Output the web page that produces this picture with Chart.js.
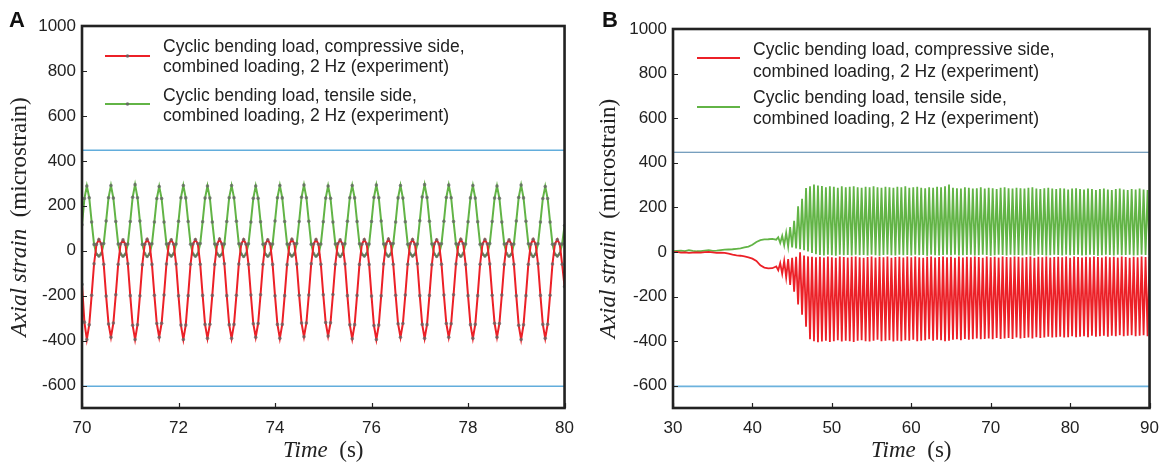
<!DOCTYPE html>
<html>
<head>
<meta charset="utf-8">
<script src="https://cdn.jsdelivr.net/npm/chart.js@4.4.0/dist/chart.umd.min.js"></script>
<style>
html, body { margin: 0; padding: 0; background: #fff; }
#wrap { position: relative; width: 1169px; height: 463px; overflow: hidden; }
#wrap canvas { position: absolute; top: 0; }
.tag { position: absolute; font: bold 22px "Liberation Sans", Arial, sans-serif; color: #111; line-height: 1; }
</style>
</head>
<body>
<div id="wrap">
  <canvas id="chartA" width="584" height="463" style="left:0"></canvas>
  <canvas id="chartB" width="585" height="463" style="left:584px"></canvas>
  <div class="tag" style="left:9px;top:9px">A</div>
  <div class="tag" style="left:602px;top:9px">B</div>
</div>
<script>
/* labels */
const redLabel = ["Cyclic bending load, compressive side,", "combined loading, 2 Hz (experiment)"];
const greenLabel = ["Cyclic bending load, tensile side,", "combined loading, 2 Hz (experiment)"];
const xTitleParts = [["Time", "italic"], ["  (s)", "normal"]];
const yTitleParts = [["Axial strain", "italic"], ["  (microstrain)", "normal"]];

/* ticks */
const yTickValues = [-600, -400, -200, 0, 200, 400, 600, 800, 1000];
const aTickValues = [70, 72, 74, 76, 78, 80];
const bTickValues = [30, 40, 50, 60, 70, 80, 90];

/* blue limit lines (microstrain) */
const limitLines = [447, -603];

/* panel A: samples every 0.05 s from 70 s */
const aTimeStart = 70, aTimeStep = 0.05;
const aGreen = [
  115, 232, 288, 236, 128, 28, -16, -24, -14, 32,
  132, 236, 290, 234, 130, 30, -15, -25, -16, 30,
  130, 238, 294, 236, 132, 28, -14, -26, -15, 31,
  128, 232, 286, 232, 128, 30, -16, -24, -14, 30,
  131, 236, 290, 235, 130, 29, -15, -25, -15, 32,
  129, 234, 288, 234, 128, 30, -14, -24, -16, 30,
  130, 236, 290, 236, 131, 31, -15, -26, -15, 31,
  128, 233, 288, 233, 129, 29, -16, -25, -14, 30,
  132, 236, 290, 235, 130, 30, -15, -24, -15, 32,
  130, 238, 292, 236, 131, 29, -14, -25, -16, 30,
  129, 234, 288, 233, 128, 30, -15, -26, -15, 31,
  131, 236, 290, 235, 130, 31, -16, -24, -14, 30,
  130, 237, 292, 236, 132, 30, -15, -25, -15, 32,
  128, 235, 290, 234, 129, 29, -14, -24, -16, 30,
  133, 239, 294, 237, 131, 30, -15, -26, -15, 31,
  131, 237, 292, 236, 130, 31, -16, -25, -14, 30,
  129, 235, 290, 234, 129, 29, -15, -24, -15, 32,
  130, 234, 288, 233, 128, 30, -14, -25, -16, 30,
  132, 237, 292, 235, 131, 31, -15, -26, -15, 31,
  128, 232, 286, 232, 128, 29, -16, -24, -14, 30,
  112
];
const aRed = [
  -150, -318, -395, -330, -198, -58, 28, 50, 30, -60,
  -202, -326, -385, -322, -196, -60, 30, 48, 28, -58,
  -200, -332, -395, -330, -201, -62, 29, 51, 30, -61,
  -198, -324, -385, -323, -197, -59, 31, 49, 29, -59,
  -201, -331, -395, -331, -200, -60, 30, 50, 31, -60,
  -199, -328, -390, -327, -199, -61, 29, 52, 30, -58,
  -200, -329, -390, -328, -198, -59, 30, 50, 29, -60,
  -197, -325, -385, -324, -196, -60, 31, 49, 30, -61,
  -201, -328, -390, -328, -200, -62, 29, 51, 31, -59,
  -198, -322, -383, -322, -197, -58, 30, 50, 29, -60,
  -196, -320, -380, -321, -195, -60, 31, 48, 30, -59,
  -200, -330, -392, -329, -199, -61, 29, 50, 30, -61,
  -202, -333, -395, -331, -201, -59, 30, 52, 31, -60,
  -198, -325, -385, -324, -197, -60, 31, 50, 29, -58,
  -200, -328, -390, -329, -199, -62, 30, 49, 30, -60,
  -197, -324, -385, -325, -196, -59, 29, 51, 31, -61,
  -200, -329, -390, -328, -200, -60, 30, 50, 30, -59,
  -198, -323, -385, -324, -197, -61, 31, 48, 29, -60,
  -201, -332, -395, -330, -200, -60, 29, 51, 30, -58,
  -199, -328, -390, -327, -198, -59, 30, 50, 30, -60,
  -160
];

/* panel B: slow drift every 0.5 s from 30 s, then 2 Hz cycles from 43.25 s */
const bDriftStart = 30, bDriftStep = 0.5;
const bDriftGreen = [3, 5, 6, 4, 8, 5, 3, 4, 6, 8, 5, 6, 8, 10, 11, 12, 14, 16, 20, 24, 32, 45, 53, 56, 57, 59, 55];
const bDriftRed = [-2, 0, -3, -2, -4, -3, -2, -3, -1, 0, -2, -4, -3, -4, -8, -12, -15, -17, -20, -24, -30, -40, -60, -70, -74, -73, -65];
const bCycleStart = 43.25, bHalfPeriod = 0.25;
const bGreenPeaks = [
  66, 72, 86, 112, 140, 205, 238, 287, 294, 302, 298,
  296, 290, 294, 292, 288, 294, 290, 292, 294, 290,
  288, 292, 290, 294, 290, 288, 292, 290, 288, 292,
  290, 294, 288, 290, 292, 288, 286, 290, 288, 292,
  290, 294, 302, 288, 286, 284, 290, 288, 284, 286,
  290, 284, 288, 286, 282, 288, 290, 286, 284, 288,
  286, 284, 288, 290, 284, 282, 286, 288, 284, 282,
  286, 284, 280, 284, 286, 282, 280, 284, 282, 278,
  282, 284, 280, 278, 282, 284, 280, 278, 282, 280, 284, 280, 278
];
const bGreenTroughs = [
  40, 30, 24, 20, 16, 12, 8, 2, -5, -10,
  -14, -16, -12, -15, -17, -13, -15, -14, -16, -12, -15, -14,
  -16, -13, -15, -17, -14, -12, -15, -16, -13, -15, -14, -16,
  -12, -15, -14, -17, -13, -15, -16, -14, -12, -15, -13, -16,
  -15, -14, -12, -16, -15, -13, -14, -17, -15, -12, -14, -16,
  -13, -15, -14, -16, -12, -15, -17, -13, -14, -16, -15, -12,
  -14, -16, -13, -15, -14, -12, -16, -15, -13, -14, -17, -15,
  -12, -14, -16, -13, -15, -14, -12, -16, -15, -13, -14, -15
];
const bRedTroughs = [
  -82, -98, -115, -148, -178, -236, -282, -335, -392, -400, -405,
  -402, -398, -404, -400, -396, -402, -398, -400, -404, -398,
  -396, -400, -402, -398, -394, -400, -398, -396, -402, -398,
  -400, -396, -398, -394, -400, -398, -396, -392, -398, -394,
  -396, -400, -398, -394, -392, -396, -390, -394, -392, -388,
  -392, -390, -388, -392, -386, -390, -388, -386, -390, -384,
  -388, -386, -384, -388, -382, -386, -384, -380, -384, -382,
  -380, -384, -382, -378, -382, -380, -378, -382, -376, -380,
  -378, -376, -380, -376, -378, -374, -378, -376, -374, -378, -376, -374, -378
];
const bRedPeaks = [
  -50, -40, -32, -26, -22, -2, -16, -20, -22, -24,
  -22, -25, -21, -24, -26, -20, -23, -25, -22, -21, -24, -26,
  -23, -20, -25, -22, -24, -21, -26, -23, -22, -25, -20, -24,
  -21, -24, -26, -22, -20, -25, -23, -21, -24, -22, -26, -20,
  -25, -22, -24, -21, -23, -26, -20, -24, -22, -25, -21, -23,
  -24, -20, -22, -25, -23, -21, -26, -22, -24, -20, -25, -23,
  -22, -24, -21, -26, -20, -23, -25, -22, -24, -21, -23, -25,
  -20, -24, -22, -25, -21, -23, -26, -22, -24, -20, -23, -22
];

const RED = "#ec2027";
const GREEN = "#62b446";
const SANS = '"Liberation Sans", Arial, sans-serif';
const SERIF = '"Liberation Serif", "Times New Roman", serif';

/* build point lists */
function sampled(start, step, vals) {
  return vals.map((v, i) => ({ x: start + i * step, y: v }));
}
function cycles(first, second) {
  const pts = [];
  for (let k = 0; k < first.length; k++) {
    pts.push({ x: bCycleStart + 2 * k * bHalfPeriod, y: first[k] });
    pts.push({ x: bCycleStart + (2 * k + 1) * bHalfPeriod, y: second[k] });
  }
  return pts;
}
const aRedPts = sampled(aTimeStart, aTimeStep, aRed);
const aGreenPts = sampled(aTimeStart, aTimeStep, aGreen);
const bRedPts = sampled(bDriftStart, bDriftStep, bDriftRed).concat(cycles(bRedTroughs, bRedPeaks));
const bGreenPts = sampled(bDriftStart, bDriftStep, bDriftGreen).concat(cycles(bGreenPeaks, bGreenTroughs));

function drawParts(ctx, parts, size) {
  let total = 0;
  const w = parts.map(p => {
    ctx.font = p[1] + " " + size + "px " + SERIF;
    const m = ctx.measureText(p[0]).width;
    total += m;
    return m;
  });
  let x = -total / 2;
  parts.forEach((p, i) => {
    ctx.font = p[1] + " " + size + "px " + SERIF;
    ctx.fillText(p[0], x, 0);
    x += w[i];
  });
}

/* frame, inside ticks, axis titles and legend */
const panelDecor = {
  id: "panelDecor",
  afterDraw(chart, args, o) {
    const ctx = chart.ctx, a = chart.chartArea;
    const xs = chart.scales.x, ys = chart.scales.y;
    ctx.save();
    ctx.strokeStyle = "#222";
    ctx.lineWidth = 1.2;
    ctx.beginPath();
    ys.ticks.forEach(t => {
      const py = Math.round(ys.getPixelForValue(t.value)) + 0.5;
      ctx.moveTo(a.left, py); ctx.lineTo(a.left + 5, py);
    });
    xs.ticks.forEach(t => {
      const px = Math.round(xs.getPixelForValue(t.value)) + 0.5;
      ctx.moveTo(px, a.bottom); ctx.lineTo(px, a.bottom - 5);
    });
    ctx.stroke();
    ctx.lineWidth = 2.6;
    ctx.strokeRect(a.left, a.top, a.right - a.left, a.bottom - a.top);

    ctx.fillStyle = "#222";
    ctx.textBaseline = "middle";
    ctx.textAlign = "left";
    ctx.save();
    ctx.translate((a.left + a.right) / 2, o.xTitleY);
    drawParts(ctx, xTitleParts, 23);
    ctx.restore();
    ctx.save();
    ctx.translate(o.yTitleX, (a.top + a.bottom) / 2);
    ctx.rotate(-Math.PI / 2);
    drawParts(ctx, yTitleParts, 23);
    ctx.restore();

    const lg = o.legend;
    ctx.font = "17.5px " + SANS;
    lg.rows.forEach((r, i) => {
      const ds = chart.data.datasets[i];
      ctx.strokeStyle = ds.borderColor;
      ctx.lineWidth = 2;
      ctx.beginPath();
      ctx.moveTo(lg.x0, r.lineY); ctx.lineTo(lg.x1, r.lineY);
      ctx.stroke();
      if (lg.marker) {
        ctx.fillStyle = "rgba(100,100,100,0.85)";
        ctx.beginPath();
        ctx.arc((lg.x0 + lg.x1) / 2, r.lineY, 1.8, 0, Math.PI * 2);
        ctx.fill();
      }
      ctx.fillStyle = "#222";
      ds.legendText.forEach((line, j) => ctx.fillText(line, lg.textX, r.textY[j]));
    });
    ctx.restore();
  }
};

function makePanel(id, cfg) {
  const limitDs = limitLines.map((v, i) => ({
    label: "limit" + i,
    data: [{ x: cfg.xMin, y: v }, { x: cfg.xMax, y: v }],
    borderColor: cfg.limitColors[i],
    borderWidth: cfg.limitWidths[i],
    pointRadius: 0
  }));
  const marker = {
    pointRadius: cfg.pointRadius, pointStyle: "circle",
    pointBackgroundColor: "rgba(100,100,100,0.75)", pointBorderWidth: 0
  };
  return new Chart(document.getElementById(id), {
    type: "line",
    data: {
      datasets: [
        Object.assign({ label: redLabel.join(" "), legendText: redLabel, data: cfg.red,
          borderColor: RED, borderWidth: cfg.lineWidth }, marker),
        Object.assign({ label: greenLabel.join(" "), legendText: greenLabel, data: cfg.green,
          borderColor: GREEN, borderWidth: cfg.lineWidth }, marker)
      ].concat(limitDs)
    },
    options: {
      responsive: false,
      animation: false,
      devicePixelRatio: 1,
      layout: { padding: { left: 0, right: cfg.padRight, top: cfg.padTop, bottom: 0 } },
      plugins: {
        legend: { display: false },
        tooltip: { enabled: false },
        panelDecor: { legend: cfg.legend, xTitleY: 451, yTitleX: cfg.yTitleX }
      },
      scales: {
        x: {
          type: "linear", min: cfg.xMin, max: cfg.xMax,
          grid: { display: false, drawTicks: false },
          border: { display: false },
          afterBuildTicks: s => { s.ticks = cfg.xTicks.map(v => ({ value: v })); },
          afterFit: s => { s.height = 55; },
          ticks: { padding: 10, color: "#222", font: { family: SANS, size: 17 }, maxRotation: 0,
            callback: v => String(v) }
        },
        y: {
          type: "linear", min: -700, max: 1000,
          grid: { display: false, drawTicks: false },
          border: { display: false },
          afterBuildTicks: s => { s.ticks = yTickValues.map(v => ({ value: v })); },
          afterFit: s => { s.width = cfg.left; },
          ticks: { padding: 6, color: "#222", font: { family: SANS, size: 17 },
            callback: v => String(v) }
        }
      }
    },
    plugins: [panelDecor]
  });
}

makePanel("chartA", {
  red: aRedPts, green: aGreenPts, xMin: 70, xMax: 80, xTicks: aTickValues,
  left: 82, padRight: 19, padTop: 26, lineWidth: 2, pointRadius: 1.8,
  limitColors: ["#62addc", "#62addc"], limitWidths: [1.6, 1.6],
  yTitleX: 20,
  legend: { x0: 105, x1: 150, textX: 163, marker: true,
    rows: [{ lineY: 56, textY: [47, 67] }, { lineY: 104, textY: [96, 116] }] }
});
makePanel("chartB", {
  red: bRedPts, green: bGreenPts, xMin: 30, xMax: 90, xTicks: bTickValues,
  left: 89, padRight: 14, padTop: 29, lineWidth: 1.8, pointRadius: 0,
  limitColors: ["#4a7fa8", "#6cb2dd"], limitWidths: [1.1, 1.8],
  yTitleX: 25,
  legend: { x0: 113, x1: 156, textX: 169, marker: false,
    rows: [{ lineY: 58, textY: [50, 72] }, { lineY: 107, textY: [98, 119] }] }
});
</script>
</body>
</html>
